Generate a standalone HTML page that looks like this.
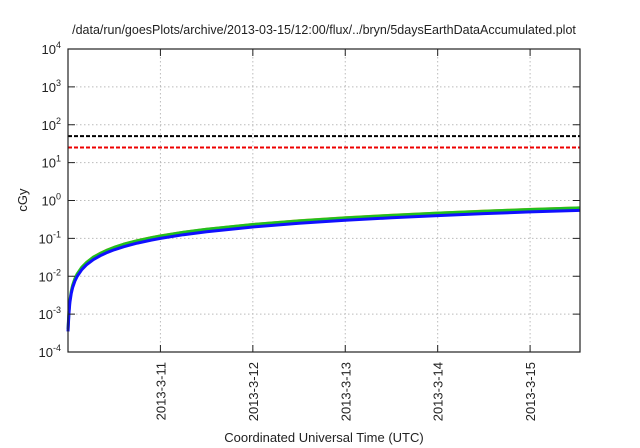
<!DOCTYPE html>
<html><head><meta charset="utf-8"><style>
html,body{margin:0;padding:0;background:#fff;width:640px;height:448px;overflow:hidden}
text{font-family:"Liberation Sans",sans-serif;fill:#222}
</style></head><body>
<svg id="chart" width="640" height="448" xmlns="http://www.w3.org/2000/svg">
<text x="324" y="34" font-size="12.5" text-anchor="middle">/data/run/goesPlots/archive/2013-03-15/12:00/flux/../bryn/5daysEarthDataAccumulated.plot</text>
<text x="0" y="0" font-size="13" text-anchor="middle" transform="translate(27,200) rotate(-90)">cGy</text>
<text x="324" y="442" font-size="13" text-anchor="middle">Coordinated Universal Time (UTC)</text>
<g id="grid"></g><g id="series"></g><g id="axes"></g>
</svg>
<script>
const tickDays=[1,2,3,4,5];
const tickLabels=["2013-3-11","2013-3-12","2013-3-13","2013-3-14","2013-3-15"];
const decades=[-4,-3,-2,-1,0,1,2,3,4];
const times=[0,0.01,0.02,0.035,0.05,0.075,0.1,0.15,0.2,0.275,0.35,0.425,0.5,0.6,0.75,0.9,1,1.25,1.5,2,2.5,3,3.5,4,4.5,5,5.54];
const blueVals=[0.00035,0.001,0.002,0.0035,0.005,0.0075,0.01,0.015,0.02,0.0275,0.035,0.0425,0.05,0.06,0.075,0.09,0.1,0.125,0.15,0.2,0.25,0.3,0.35,0.4,0.45,0.5,0.55];
const greenVals=[0.0004,0.00116,0.0023,0.004,0.0058,0.0087,0.0116,0.0174,0.023,0.032,0.04,0.049,0.058,0.07,0.087,0.104,0.116,0.145,0.174,0.232,0.29,0.348,0.406,0.464,0.52,0.58,0.64];
const orangeVals=[0.00042,0.0012,0.0024,0.0042,0.006,0.009,0.012,0.018,0.024,0.033,0.042,0.051,0.06,0.072,0.09,0.108,0.12,0.15,0.18,0.24,0.3,0.36,0.42,0.48,0.54,0.6,0.66];
const limitBlack=50, limitRed=25;
const L=68,R=580,T=49,B=352,xMin=0,xMax=5.54;
const X=t=>L+(t-xMin)/(xMax-xMin)*(R-L);
const Y=v=>B-(Math.log10(v)+4)/8*(B-T);
const NS="http://www.w3.org/2000/svg";
function mk(tag,parent,attrs){const e=document.createElementNS(NS,tag);for(const k in attrs)e.setAttribute(k,attrs[k]);document.getElementById(parent).appendChild(e);return e;}
decades.forEach(d=>{const y=Y(Math.pow(10,d));
 if(d>-4&&d<4){const g=mk('line','grid',{x1:L,x2:R,y1:y,y2:y,stroke:'#bbb','stroke-dasharray':'1.5,2.5','stroke-width':1});
 
 }
 const t1=mk('line','axes',{x1:L,x2:L+7,y1:y,y2:y,stroke:'#222','stroke-width':1});
 
 
 const t2=mk('line','axes',{x1:R-7,x2:R,y1:y,y2:y,stroke:'#222','stroke-width':1});
 
 
 const tx=mk('text','axes',{x:61,y:y+5,'font-size':13,'text-anchor':'end'});
 
 
 tx.innerHTML='10<tspan font-size="9" dy="-6">'+d+'</tspan>';});
tickDays.forEach((d,i)=>{const x=X(d);
 const g=mk('line','grid',{x1:x,x2:x,y1:T,y2:B,stroke:'#bbb','stroke-dasharray':'1.5,2.5','stroke-width':1});
 
 
 const t1=mk('line','axes',{x1:x,x2:x,y1:B-7,y2:B,stroke:'#222','stroke-width':1});
 
 
 const t2=mk('line','axes',{x1:x,x2:x,y1:T,y2:T+7,stroke:'#222','stroke-width':1});
 
 
 const tx=mk('text','axes',{x:0,y:0,'font-size':13,'text-anchor':'end',transform:'translate('+(x+5)+',362) rotate(-90)'});
 
 
 tx.textContent=tickLabels[i];});
[[limitBlack,'#000','limit-line-black'],[limitRed,'#e00','limit-line-red']].forEach(a=>{
 const l=mk('line','series',{x1:L,x2:R,y1:Y(a[0]),y2:Y(a[0]),stroke:a[1],'stroke-width':2,'stroke-dasharray':'4,2'});
 
 });
[[orangeVals,'#e8a020','series-orange',2],[greenVals,'#20c020','series-green',3],[blueVals,'#1010ff','series-blue',3]].forEach(s=>{
 const p=mk('polyline','series',{points:times.map((t,i)=>X(t)+','+Y(s[0][i])).join(' '),fill:'none',stroke:s[1],'stroke-width':s[3],'stroke-linejoin':'round'});
 
 });
const f=mk('rect','axes',{x:L,y:T,width:R-L,height:B-T,fill:'none',stroke:'#222','stroke-width':1.2});


</script>
</body></html>
